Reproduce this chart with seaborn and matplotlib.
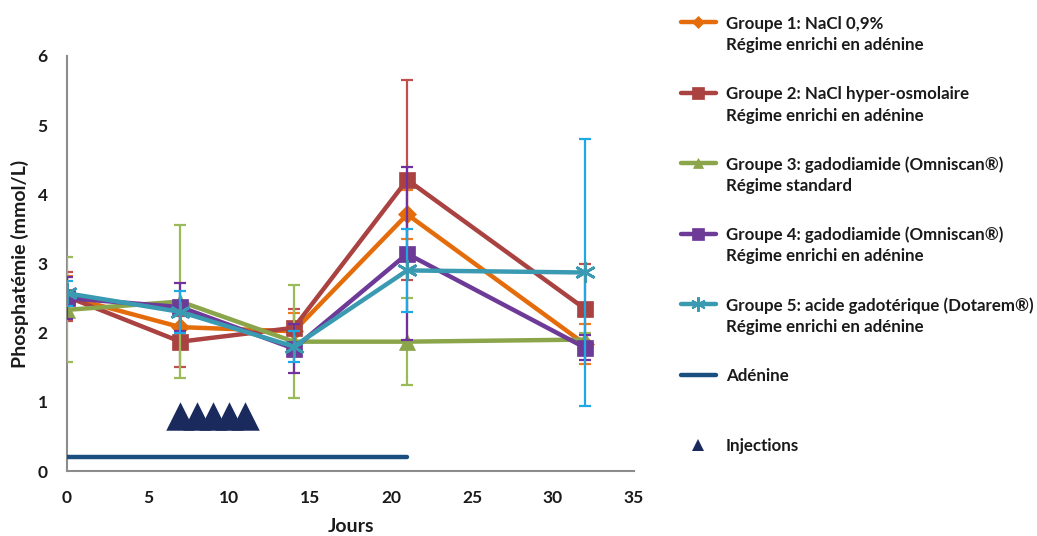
import matplotlib
matplotlib.use("Agg")
import matplotlib.pyplot as plt
import seaborn as sns
import pandas as pd
from matplotlib.lines import Line2D

sns.set_theme(style="white")
plt.rcParams['font.family'] = ['Lato', 'DejaVu Sans']
plt.rcParams['font.weight'] = 'bold'

days = [0, 7, 14, 21, 32]
g1 = [2.52, 2.08, 2.02, 3.71, 1.83]
g1_err = [0.30, 0.32, 0.27, 0.35, 0.29]
g2 = [2.52, 1.87, 2.07, 4.21, 2.34]
g2_err = [0.35, 0.37, 0.27, 1.45, 0.65]
g3 = [2.33, 2.45, 1.87, 1.87, 1.90]
g3_err = [0.76, 1.10, 0.82, 0.63, 0.10]
g4 = [2.50, 2.37, 1.77, 3.14, 1.78]
g4_err = [0.30, 0.35, 0.35, 1.25, 0.18]
g5 = [2.57, 2.30, 1.80, 2.90, 2.87]
g5_err = [0.18, 0.30, 0.22, 0.60, 1.93]

adenine_days = [0, 21]
adenine_level = [0.2, 0.2]
injection_days = [7, 8, 9, 10, 11]
injection_level = [0.8, 0.8, 0.8, 0.8, 0.8]

labels = [
    ["Groupe 1: NaCl 0,9%", "Régime enrichi en adénine"],
    ["Groupe 2: NaCl hyper-osmolaire", "Régime enrichi en adénine"],
    ["Groupe 3: gadodiamide (Omniscan®)", "Régime standard"],
    ["Groupe 4: gadodiamide (Omniscan®)", "Régime enrichi en adénine"],
    ["Groupe 5: acide gadotérique (Dotarem®)", "Régime enrichi en adénine"],
    ["Adénine"],
    ["Injections"],
]

series = [g1, g2, g3, g4, g5]
errs = [g1_err, g2_err, g3_err, g4_err, g5_err]
line_colors = ["#E46C0A", "#A94240", "#8AA54A", "#6E3A98", "#3A9AB2"]
err_colors = ["#F07A20", "#C0504D", "#9BBB59", "#7030A0", "#1EA8E4"]
markers = ["D", "s", "^", "s", (6, 2, 0)]
msizes = [9, 12, 11, 12, 15]
adenine_color = "#1B4F7F"
inj_color = "#1B2A5C"

fig = plt.figure(figsize=(10.37, 5.36), dpi=100)
ax = fig.add_axes([67/1037, 1-471/536, (634-67)/1037, (471-56)/536])

for i, (vals, e) in enumerate(zip(series, errs)):
    ax.errorbar(days, vals, yerr=e, fmt='none', ecolor=err_colors[i],
                elinewidth=1.6, capsize=4.5, capthick=1.6, zorder=2+i)
    df = pd.DataFrame({"x": days, "y": vals})
    sns.lineplot(data=df, x="x", y="y", ax=ax, color=line_colors[i],
                 linewidth=3.2, marker=markers[i], markersize=msizes[i],
                 markeredgecolor=line_colors[i], markeredgewidth=2 if i == 4 else 0.5,
                 zorder=2.5+i)

sns.lineplot(x=adenine_days, y=adenine_level, ax=ax, color=adenine_color,
             linewidth=3.2, zorder=10)
sns.scatterplot(x=injection_days, y=injection_level, ax=ax, marker="^",
                s=420, color=inj_color, edgecolor=inj_color, linewidth=0, zorder=10)

ax.set_xlim(0, 35)
ax.set_ylim(0, 6)
ax.set_xticks(range(0, 36, 5))
ax.set_yticks(range(0, 7))
ax.tick_params(axis='both', length=0, labelsize=12.5, colors="#1a1a1a")
ax.tick_params(axis='x', pad=14)
ax.tick_params(axis='y', pad=14)
for lab in ax.get_xticklabels() + ax.get_yticklabels():
    lab.set_fontweight('bold')
ax.set_xlabel("Jours", fontsize=14, fontweight='bold', labelpad=8, color="#1a1a1a")
ax.set_ylabel("Phosphatémie (mmol/L)", fontsize=14, fontweight='bold', labelpad=6, color="#1a1a1a")
for s in ["top", "right"]:
    ax.spines[s].set_visible(False)
for s in ["left", "bottom"]:
    ax.spines[s].set_color("#8c8c8c")
    ax.spines[s].set_linewidth(1.5)

# legend drawn in its own axes (pixel-like coordinates)
lax = fig.add_axes([655/1037, 0, 382/1037, 1])
lax.set_xlim(655, 1037)
lax.set_ylim(536, 0)
lax.axis('off')
for i in range(7):
    y = 22 + 70.5 * i
    if i < 5:
        lax.add_line(Line2D([681, 716], [y, y], color=line_colors[i], linewidth=3.2,
                            solid_capstyle='round'))
        lax.add_line(Line2D([698.5], [y], color=line_colors[i], marker=markers[i],
                            markersize=msizes[i]*0.7, markeredgewidth=1.5 if i == 4 else 0.5,
                            markeredgecolor=line_colors[i]))
    elif i == 5:
        lax.add_line(Line2D([681, 716], [y, y], color=adenine_color, linewidth=3.2,
                            solid_capstyle='round'))
    else:
        lax.add_line(Line2D([698.5], [y], color=inj_color, marker="^", markersize=9,
                            markeredgewidth=0))
    for k, txt in enumerate(labels[i]):
        lax.text(726, y + 21.5 * k, txt, fontsize=12.2, fontweight='bold',
                 color="#1a1a1a", va='center_baseline', ha='left')

fig.savefig("out.png", dpi=100)
